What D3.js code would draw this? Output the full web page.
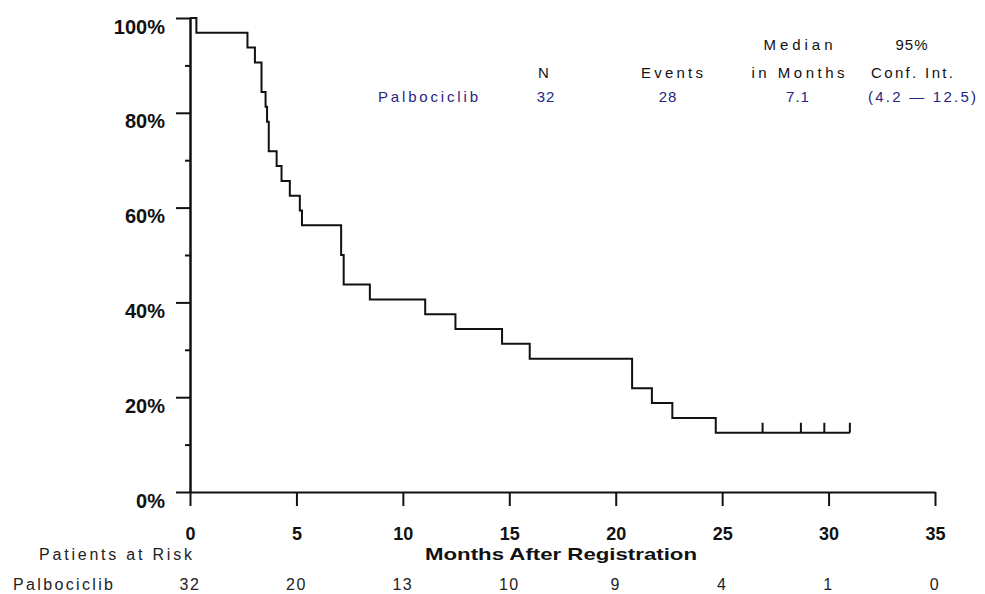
<!DOCTYPE html>
<html>
<head>
<meta charset="utf-8">
<script src="https://cdn.jsdelivr.net/npm/d3@7"></script>
<style>
	body { margin: 0; background: #fff; }
	svg { display: block; font-family: "Liberation Sans", Arial, sans-serif; }
</style>
</head>
<body>
<svg id="svg-port" width="985" height="594"></svg>
<script>
// event times (months) and survival after each drop
var eventTimes = [0.3, 2.7, 3.05, 3.36, 3.36, 3.55, 3.62, 3.7, 3.7, 4.07, 4.3, 4.69, 5.16, 5.26,
	7.1, 7.1, 7.22, 7.22, 8.45, 11.05, 12.47, 14.66, 15.96, 20.77, 20.77, 21.7, 22.66, 24.7];
var survivalPct = [96.9, 93.8, 90.6, 87.5, 84.4, 81.3, 78.1, 75.0, 71.9, 68.8, 65.6, 62.5, 59.4, 56.3,
	53.1, 50.0, 46.9, 43.8, 40.6, 37.5, 34.4, 31.3, 28.1, 25.0, 21.9, 18.8, 15.6, 12.5];
var censorTimes = [26.9, 28.7, 29.8, 31.0];
var censorPct = [12.5, 12.5, 12.5, 12.5];

var xTicks = [0, 5, 10, 15, 20, 25, 30, 35];
var yMajorTicks = [0, 20, 40, 60, 80, 100];
var yMinorTicks = [10, 30, 50, 70, 90];
var atRisk = [32, 20, 13, 10, 9, 4, 1, 0];

var armName = 'Palbociclib';
var tableHeadTop = ['', '', 'Median', '95%'];
var tableHeadBottom = ['N', 'Events', 'in Months', 'Conf. Int.'];
var tableRow = ['32', '28', '7.1', '(4.2  \u2014  12.5)'];

var svg = d3.select('#svg-port');
var blue = '#262680';

var xScale = d3.scaleLinear().domain([0, 35]).range([190, 935]);
var yScale = d3.scaleLinear().domain([0, 100]).range([492, 18]);

///Axes
var yMinor = d3.axisLeft(yScale).tickValues(yMinorTicks).tickSize(5).tickSizeOuter(0).tickFormat('');
svg.append('g').attr('transform', 'translate(190,0)').call(yMinor);

var yAxis = d3.axisLeft(yScale).tickValues(yMajorTicks).tickSize(14).tickSizeOuter(0).tickPadding(11)
	.tickFormat(function (d) { return d + '%'; });
var yg = svg.append('g').attr('transform', 'translate(190,0)').call(yAxis);
yg.selectAll('text').attr('dy', '0.75em').style('font-size', '20px').style('font-weight', 'bold')
	.style('font-family', '"Liberation Sans", Arial, sans-serif').attr('fill', '#111');

var xAxis = d3.axisBottom(xScale).tickValues(xTicks).tickSize(14).tickSizeOuter(0).tickPadding(21);
var xg = svg.append('g').attr('transform', 'translate(0,492)').call(xAxis);
xg.selectAll('text').style('font-size', '18px').style('font-weight', 'bold')
	.style('font-family', '"Liberation Sans", Arial, sans-serif').attr('fill', '#111');

svg.selectAll('.domain, .tick line').attr('stroke', '#111').attr('stroke-width', 2);

///Survival curve
var points = [{t: 0, s: 100}];
eventTimes.forEach(function (t, i) {
	points.push({t: t, s: survivalPct[i]});
});
points.push({t: censorTimes[censorTimes.length - 1], s: censorPct[censorPct.length - 1]});

var line = d3.line()
	.x(function (d) { return xScale(d.t); })
	.y(function (d) { return yScale(d.s); })
	.curve(d3.curveStepAfter);

svg.append('path')
	.datum(points)
	.attr('d', line)
	.attr('fill', 'none')
	.attr('stroke', '#111')
	.attr('stroke-width', 2);

svg.append('g')
	.selectAll('line')
	.data(censorTimes)
	.enter()
	.append('line')
	.attr('x1', function (d) { return xScale(d); })
	.attr('x2', function (d) { return xScale(d); })
	.attr('y1', function (d, i) { return yScale(censorPct[i]); })
	.attr('y2', function (d, i) { return yScale(censorPct[i]) - 10; })
	.attr('stroke', '#111')
	.attr('stroke-width', 2);

///Axis title and patients at risk
svg.append('text')
	.attr('x', 425).attr('y', 560)
	.attr('textLength', 272).attr('lengthAdjust', 'spacingAndGlyphs')
	.style('font-size', '17px').style('font-weight', 'bold').attr('fill', '#111')
	.text('Months After Registration');

svg.append('text')
	.attr('x', 39).attr('y', 560)
	.attr('textLength', 153).attr('lengthAdjust', 'spacing')
	.style('font-size', '16px').attr('fill', '#222')
	.text('Patients at Risk');

svg.append('text')
	.attr('x', 13).attr('y', 590)
	.attr('textLength', 100).attr('lengthAdjust', 'spacing')
	.style('font-size', '16px').attr('fill', '#222')
	.text(armName);

svg.append('g')
	.selectAll('text')
	.data(atRisk)
	.enter()
	.append('text')
	.attr('x', function (d, i) { return xScale(xTicks[i]); })
	.attr('y', 590)
	.attr('text-anchor', 'middle')
	.style('font-size', '16px').style('letter-spacing', '1.5px')
	.attr('fill', '#222')
	.text(function (d) { return d; });

///Summary table
var headCentres = [544, 672, 798, 912];
var headTopWidths = [0, 0, 69, 0];
var headBottomWidths = [0, 62, 93, 82];
var rowCentres = [546, 668, 798, 922];
var rowWidths = [0, 0, 0, 108];

// w = 0 -> short label, natural width with a little tracking
function tableText(str, cx, y, w, colour) {
	if (!str) return;
	var t = svg.append('text')
		.attr('y', y)
		.style('font-size', '15px')
		.attr('fill', colour)
		.text(str);
	if (w) t.attr('x', cx - w / 2).attr('textLength', w).attr('lengthAdjust', 'spacing');
	else t.attr('x', cx).attr('text-anchor', 'middle').style('letter-spacing', '1px');
}

tableHeadTop.forEach(function (s, i) { tableText(s, headCentres[i], 50, headTopWidths[i], '#111'); });
tableHeadBottom.forEach(function (s, i) { tableText(s, headCentres[i], 78, headBottomWidths[i], '#111'); });
tableRow.forEach(function (s, i) { tableText(s, rowCentres[i], 102, rowWidths[i], blue); });
tableText(armName, 428, 102, 100, blue);
</script>
</body>
</html>
